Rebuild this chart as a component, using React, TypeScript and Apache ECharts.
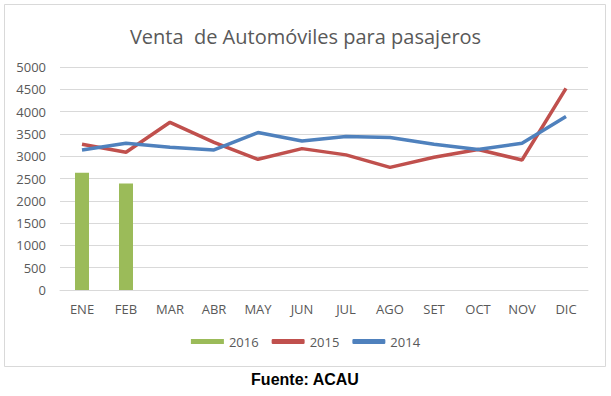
import React, { useEffect, useRef } from "react";
import * as echarts from "echarts";

const categories = ["ENE", "FEB", "MAR", "ABR", "MAY", "JUN", "JUL", "AGO", "SET", "OCT", "NOV", "DIC"];
const yTicks = [0, 500, 1000, 1500, 2000, 2500, 3000, 3500, 4000, 4500, 5000];
const values2016: (number | null)[] = [2630, 2390, null, null, null, null, null, null, null, null, null, null];
const values2015 = [3270, 3090, 3760, 3310, 2930, 3170, 3030, 2750, 2975, 3150, 2915, 4520];
const values2014 = [3140, 3290, 3200, 3140, 3530, 3340, 3440, 3420, 3270, 3150, 3290, 3890];
const titleText = "Venta  de Automóviles para pasajeros";
const sourceText = "Fuente: ACAU";

export default function App() {
  const ref = useRef<HTMLDivElement>(null);
  useEffect(() => {
    document.body.style.margin = "0";
    if (!ref.current) return;
    const chart = echarts.init(ref.current, null, { renderer: "svg" });
    const font = "Open Sans";
    chart.setOption({
      animation: false,
      backgroundColor: "#ffffff",
      title: {
        text: titleText,
        left: "center",
        top: 21,
        textStyle: { fontFamily: font, fontSize: 20, fontWeight: "normal", color: "#595959" },
      },
      grid: { left: 60, right: 23, top: 67, bottom: 106 },
      legend: {
        top: 330,
        left: "center",
        itemWidth: 33,
        itemHeight: 5,
        itemGap: 13,
        textStyle: { fontFamily: font, fontSize: 13, color: "#595959" },
        data: [
          { name: "2016", icon: "rect" },
          { name: "2015", icon: "roundRect" },
          { name: "2014", icon: "roundRect" },
        ],
      },
      xAxis: {
        type: "category",
        data: categories,
        axisTick: { show: false },
        axisLine: { lineStyle: { color: "#D9D9D9", width: 1 } },
        axisLabel: { fontFamily: font, fontSize: 13, color: "#595959", margin: 12 },
      },
      yAxis: {
        type: "value",
        min: yTicks[0],
        max: yTicks[yTicks.length - 1],
        interval: 500,
        axisLine: { show: false },
        axisTick: { show: false },
        splitLine: { lineStyle: { color: "#D9D9D9", width: 1 } },
        axisLabel: {
          fontFamily: font,
          fontSize: 13,
          color: "#595959",
          margin: 14,
          formatter: (v: number) => String(v),
        },
      },
      series: [
        {
          name: "2016",
          type: "bar",
          data: values2016,
          barWidth: 14,
          itemStyle: { color: "#9BBB59" },
        },
        {
          name: "2015",
          type: "line",
          data: values2015,
          symbol: "none",
          lineStyle: { color: "#C0504D", width: 3.5 },
          itemStyle: { color: "#C0504D" },
        },
        {
          name: "2014",
          type: "line",
          data: values2014,
          symbol: "none",
          lineStyle: { color: "#4F81BD", width: 3.5 },
          itemStyle: { color: "#4F81BD" },
        },
      ],
      graphic: [
        {
          type: "rect",
          shape: { x: 4.5, y: 4.5, width: 601, height: 362 },
          style: { fill: "none", stroke: "#D9D9D9", lineWidth: 1 },
          silent: true,
          z: -1,
        },
        {
          type: "text",
          x: 305,
          y: 379,
          style: {
            text: sourceText,
            font: "bold 16px 'Liberation Sans', Arial, sans-serif",
            fill: "#000000",
            textAlign: "center",
            textVerticalAlign: "middle",
          },
        },
      ],
    });
    return () => chart.dispose();
  }, []);
  return <div ref={ref} style={{ width: 611, height: 396 }} />;
}
